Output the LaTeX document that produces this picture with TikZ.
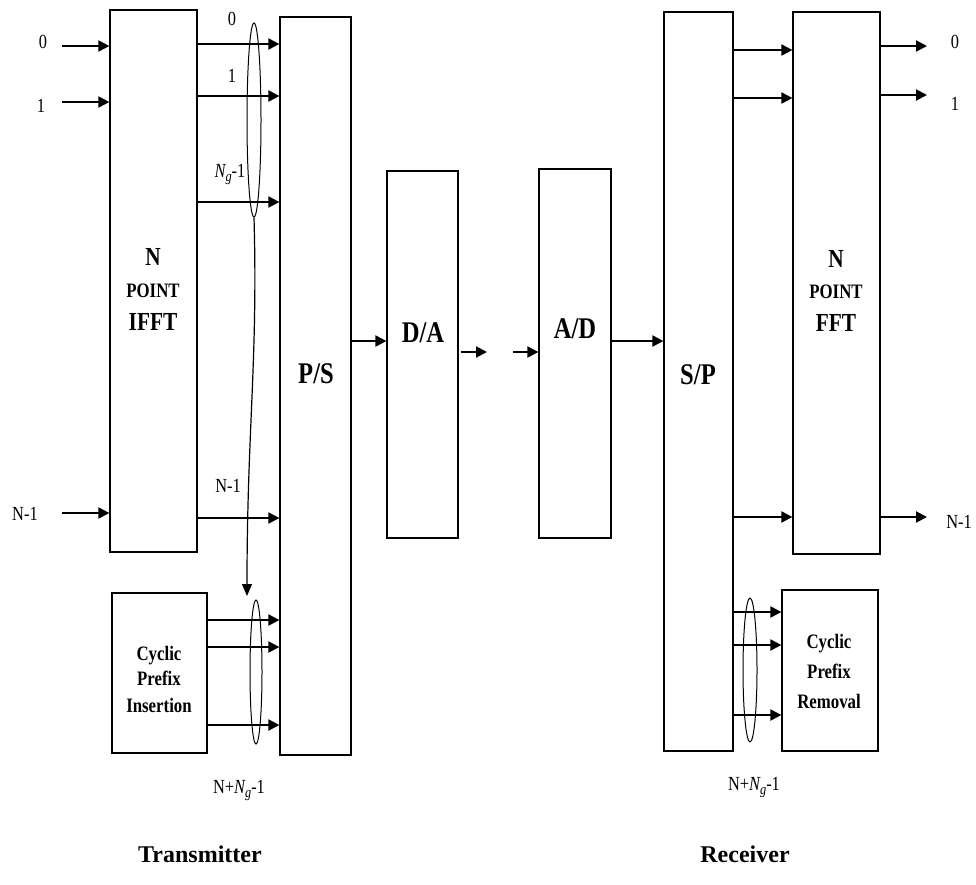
\documentclass[tikz,border=0pt]{standalone}
\usepackage{fontspec}
\setmainfont{Liberation Serif}
\newfontfamily\cf[FakeStretch=0.82]{Liberation Serif}
\usetikzlibrary{arrows.meta,shapes.geometric,calc}
\begin{document}
\begin{tikzpicture}[x=1pt,y=-1pt,
  box/.style={draw,line width=1.2pt,inner sep=0pt},
  arr/.style={line width=2pt,-{Triangle[length=11pt,width=11pt]}},
  thinarr/.style={line width=1.2pt,-{Triangle[length=12pt,width=10pt]}},
  oval/.style={draw,ellipse,line width=1pt,inner sep=0pt},
  big/.style={font=\cf\bfseries\fontsize{30}{32}\selectfont,anchor=base,inner sep=0pt},
  mid/.style={font=\cf\bfseries\fontsize{26}{28}\selectfont,anchor=base,inner sep=0pt},
  small/.style={font=\cf\bfseries\fontsize{20.5}{22}\selectfont,anchor=base,inner sep=0pt},
  lab/.style={font=\cf\fontsize{20}{22}\selectfont,anchor=base,inner sep=0pt},
  capt/.style={font=\bfseries\fontsize{24}{26}\selectfont,anchor=base,inner sep=0pt}
]
\useasboundingbox (0,0) rectangle (976,884);

% boxes
\node[box,minimum width=87pt,minimum height=542pt] (ifft) at (153.5,281) {};
\node[box,minimum width=71pt,minimum height=738pt] (ps) at (315.5,386) {};
\node[box,minimum width=95pt,minimum height=160pt] (cpi) at (159.5,673) {};
\node[box,minimum width=71pt,minimum height=367pt] (da) at (422.5,354.5) {};
\node[box,minimum width=72pt,minimum height=369pt] (ad) at (575,353.5) {};
\node[box,minimum width=69pt,minimum height=739pt] (sp) at (698.5,381.5) {};
\node[box,minimum width=87pt,minimum height=542pt] (fft) at (836.5,283) {};
\node[box,minimum width=96pt,minimum height=161pt] (cpr) at (830,670.5) {};

% ellipses
\node[oval,minimum width=14pt,minimum height=194pt] (e1) at (254,120) {};
\node[oval,minimum width=12pt,minimum height=144pt] (e2) at (256,672) {};
\node[oval,minimum width=14pt,minimum height=144pt] (e3) at (750,670) {};

% box texts
\node[mid] (t1) at (153,265) {N};
\node[small] (t2) at (153,297) {POINT};
\node[mid] (t3) at (153,330) {IFFT};
\node[mid] (t4) at (836,267) {N};
\node[small] (t5) at (836,298) {POINT};
\node[mid] (t6) at (836,331) {FFT};
\node[big] (t7) at (316,383) {P/S};
\node[big] (t8) at (423,342) {D/A};
\node[big] (t9) at (575,338) {A/D};
\node[big] (t10) at (698,384) {S/P};
\node[small] (t11) at (159,660) {Cyclic};
\node[small] (t12) at (159,685) {Prefix};
\node[small] (t13) at (159,712) {Insertion};
\node[small] (t14) at (829,648) {Cyclic};
\node[small] (t15) at (829,678) {Prefix};
\node[small] (t16) at (829,708) {Removal};

% inputs
\coordinate (i0) at (62,46);
\coordinate (i1) at (62,102);
\coordinate (i2) at (62,513);
\draw[arr] (i0) -- (i0 -| ifft.west);
\draw[arr] (i1) -- (i1 -| ifft.west);
\draw[arr] (i2) -- (i2 -| ifft.west);
\node[lab] (l0) at (43,48) {0};
\node[lab] (l1) at (41,112) {1};
\node[lab] (l2) at (25,520) {N-1};

% IFFT -> P/S
\draw[arr] (ifft.east |- 0,44) -- (ps.west |- 0,44);
\draw[arr] (ifft.east |- 0,96) -- (ps.west |- 0,96);
\draw[arr] (ifft.east |- 0,202) -- (ps.west |- 0,202);
\draw[arr] (ifft.east |- 0,518) -- (ps.west |- 0,518);
\node[lab] (l3) at (232,25) {0};
\node[lab] (l4) at (232,82) {1};
\node[lab] (l5) at (230,177) {\itshape N\raisebox{-4pt}{\fontsize{15}{15}\selectfont g}\upshape-1};
\node[lab] (l6) at (228,492) {N-1};

% ellipse to cyclic prefix
\coordinate (cpa) at (247,596);
\draw[thinarr] (e1.south) .. controls (258,360) and (247,430) .. (cpa);

% CPI -> P/S
\draw[arr] (cpi.east |- 0,620) -- (ps.west |- 0,620);
\draw[arr] (cpi.east |- 0,647) -- (ps.west |- 0,647);
\draw[arr] (cpi.east |- 0,725) -- (ps.west |- 0,725);
\node[lab] (l7) at (239,793) {N+\itshape N\raisebox{-4pt}{\fontsize{15}{15}\selectfont g}\upshape-1};

% P/S -> D/A -> ... -> A/D -> S/P
\draw[arr] (ps.east |- 0,341) -- (da.west |- 0,341);
\coordinate (dao) at (487,352);
\coordinate (adi) at (513,352);
\draw[arr] ($(da.east |- dao)+(2,0)$) -- (dao);
\draw[arr] (adi) -- (adi -| ad.west);
\draw[arr] (ad.east |- 0,341) -- (sp.west |- 0,341);

% S/P -> FFT
\draw[arr] (sp.east |- 0,50) -- (fft.west |- 0,50);
\draw[arr] (sp.east |- 0,98) -- (fft.west |- 0,98);
\draw[arr] (sp.east |- 0,517) -- (fft.west |- 0,517);

% FFT outputs
\coordinate (o0) at (927,46);
\coordinate (o1) at (927,95);
\coordinate (o2) at (927,517);
\draw[arr] (o0 -| fft.east) -- (o0);
\draw[arr] (o1 -| fft.east) -- (o1);
\draw[arr] (o2 -| fft.east) -- (o2);
\node[lab] (l8) at (955,48) {0};
\node[lab] (l9) at (955,110) {1};
\node[lab] (l10) at (959,528) {N-1};

% S/P -> CPR
\draw[arr] (sp.east |- 0,612) -- (cpr.west |- 0,612);
\draw[arr] (sp.east |- 0,645) -- (cpr.west |- 0,645);
\draw[arr] (sp.east |- 0,715) -- (cpr.west |- 0,715);
\node[lab] (l11) at (754,790) {N+\itshape N\raisebox{-4pt}{\fontsize{15}{15}\selectfont g}\upshape-1};

% captions
\node[capt] (tx) at (200,862) {Transmitter};
\node[capt] (rx) at (745,862) {Receiver};
\end{tikzpicture}
\end{document}
